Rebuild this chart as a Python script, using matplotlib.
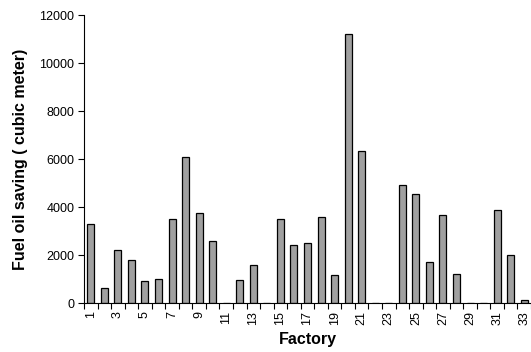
import matplotlib
matplotlib.use("Agg")
import matplotlib.pyplot as plt

factories = list(range(1, 34))
savings = [3300, 620, 2220, 1790, 920, 1010, 3490, 6100, 3750, 2570,
           0, 960, 1570, 0, 3490, 2400, 2490, 3580, 1180, 11220,
           6320, 0, 0, 4930, 4540, 1710, 3670, 1220, 0, 0,
           3890, 2010, 140]
tick_labels = [str(f) if f % 2 == 1 else "" for f in factories]
yticks = [0, 2000, 4000, 6000, 8000, 10000, 12000]

plt.rcParams['font.family'] = ['Liberation Sans', 'DejaVu Sans']

fig = plt.figure(figsize=(5.31, 3.52), dpi=100)
ax = fig.add_axes([84/531, 1 - 303/352, (531 - 84)/531, (303 - 15)/352])

ax.bar(factories, savings, width=0.52, color='#a0a0a0', edgecolor='black', linewidth=0.9)

ax.set_xlim(0.5, 33.5)
ax.set_ylim(0, 12000)
ax.set_yticks(yticks)
ax.set_yticklabels([str(v) for v in yticks], fontsize=9)

# ticks at category boundaries, labels at centers
ax.set_xticks([f + 0.5 for f in [0] + factories], minor=False)
ax.set_xticklabels([])
ax.set_xticks(factories, minor=True)
ax.set_xticklabels(tick_labels, minor=True, rotation=90, fontsize=9)
ax.tick_params(axis='x', which='minor', length=0, pad=6)
ax.tick_params(axis='x', which='major', direction='out', length=4, width=0.8)
ax.tick_params(axis='y', direction='out', length=4, width=0.8, pad=3)

ax.spines['top'].set_visible(False)
ax.spines['right'].set_visible(False)
ax.spines['left'].set_linewidth(0.8)
ax.spines['bottom'].set_linewidth(0.8)

ax.set_xlabel('Factory', fontsize=11.5, fontweight='bold', labelpad=5)
ax.set_ylabel('Fuel oil saving ( cubic meter)', fontsize=11.5, fontweight='bold', labelpad=8)

fig.savefig('out.png', dpi=100)
